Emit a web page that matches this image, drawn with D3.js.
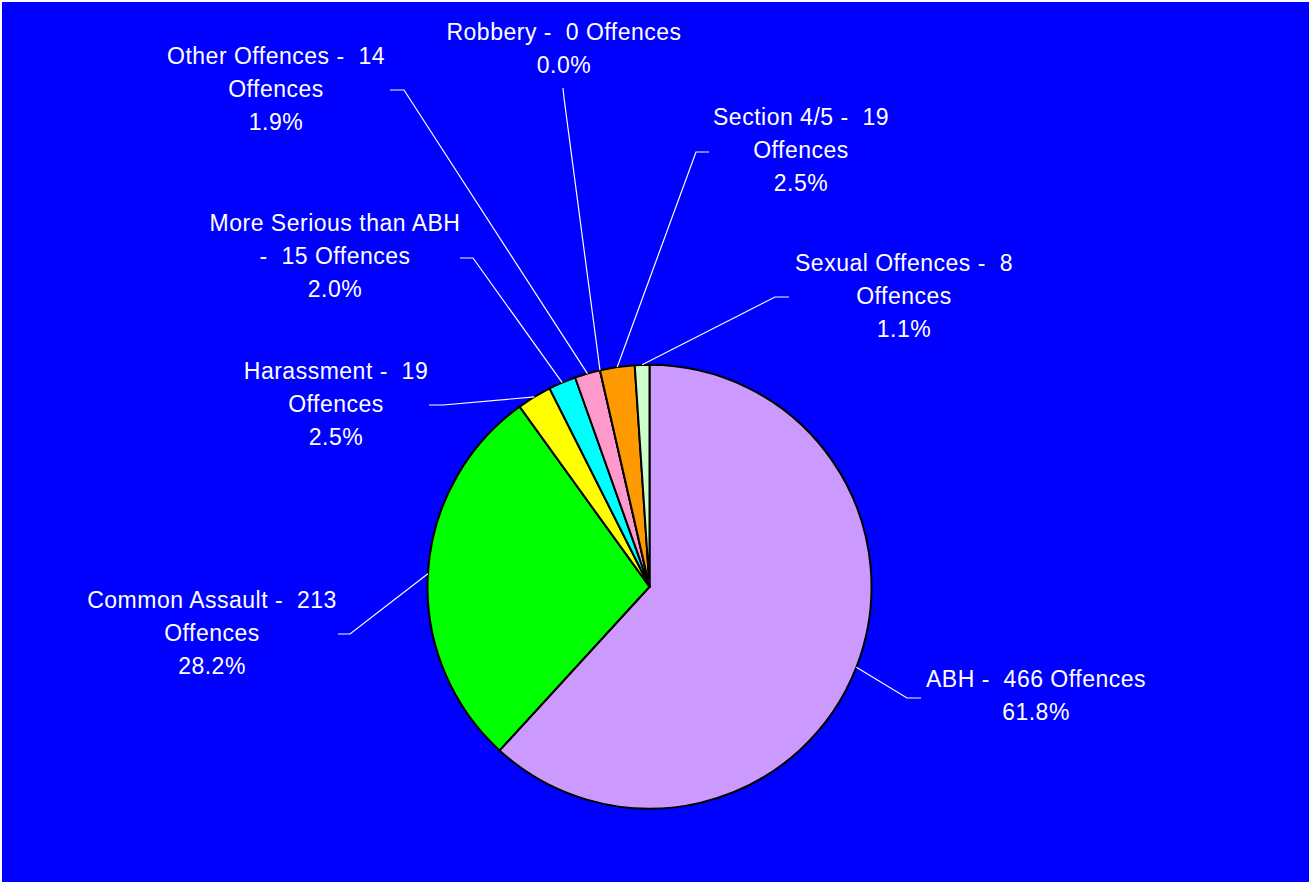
<!DOCTYPE html>
<html>
<head>
<meta charset="utf-8">
<script src="https://cdn.jsdelivr.net/npm/d3@7"></script>
<style>
  html, body { margin: 0; padding: 0; background: #ffffff; }
  svg { display: block; }
  .lbl { font-family: "Liberation Sans", Arial, sans-serif; font-size: 23px; letter-spacing: 0.5px; fill: #ffffff; white-space: pre; }
</style>
</head>
<body>
<svg id="chart" width="1309" height="882"></svg>
<script>
// Offence categories, in slice order clockwise from 12 o'clock
const categories = ["ABH", "Common Assault", "Harassment", "More Serious than ABH",
  "Other Offences", "Robbery", "Section 4/5", "Sexual Offences"];
const offences = [466, 213, 19, 15, 14, 0, 19, 8];
const sliceColors = ["#CC99FF", "#00FF00", "#FFFF00", "#00FFFF",
  "#FF99CC", "#993366", "#FF9900", "#CCFFCC"];

// Label placement: text centre, first baseline, where the line wraps,
// and the leader line's outer end and elbow
const labelLayout = [
  { x: 1036, y: 687, wrap: "none", end: [921, 698], elbow: [907, 698] },
  { x: 212,  y: 608, wrap: "last", end: [338, 634], elbow: [350, 634] },
  { x: 336,  y: 379, wrap: "last", end: [429, 405], elbow: [443, 405] },
  { x: 335,  y: 231, wrap: "name", end: [460, 258], elbow: [473, 258] },
  { x: 276,  y: 64,  wrap: "last", end: [390, 90],  elbow: [404, 90] },
  { x: 564,  y: 40,  wrap: "none", end: [563, 88],  elbow: [564, 98] },
  { x: 801,  y: 125, wrap: "last", end: [709, 152], elbow: [696, 152] },
  { x: 904,  y: 271, wrap: "last", end: [789, 297], elbow: [775, 297] }
];

const W = 1309, H = 882;
const cx = 649.5, cy = 586.7, R = 222;
const lineStep = 33;

const svg = d3.select("#chart");

// white top/left rule then the blue chart area
svg.append("rect").attr("x", 0).attr("y", 0).attr("width", W).attr("height", H).attr("fill", "#ffffff");
svg.append("rect").attr("x", 2).attr("y", 2).attr("width", W - 2).attr("height", H - 2).attr("fill", "#0000FF");

const data = categories.map((c, i) => ({ name: c, value: offences[i], color: sliceColors[i], layout: labelLayout[i] }));
const total = d3.sum(offences);
const pct = d3.format(".1%");

const pie = d3.pie().sort(null).value(d => d.value).startAngle(0).endAngle(2 * Math.PI);
const arcs = pie(data);
const arc = d3.arc().innerRadius(0).outerRadius(R);

const g = svg.append("g").attr("transform", `translate(${cx},${cy})`);

g.selectAll("path.slice")
  .data(arcs)
  .join("path")
  .attr("class", "slice")
  .attr("d", arc)
  .attr("fill", d => d.data.color)
  .attr("stroke", "#000000")
  .attr("stroke-width", 2)
  .attr("stroke-linejoin", "round");

// leader lines from the middle of each slice's rim to its label
const rimPoint = d => {
  const a = (d.startAngle + d.endAngle) / 2;
  return [cx + R * Math.sin(a), cy - R * Math.cos(a)];
};
const line = d3.line();
svg.selectAll("path.leader")
  .data(arcs)
  .join("path")
  .attr("class", "leader")
  .attr("d", d => line([d.data.layout.end, d.data.layout.elbow, rimPoint(d)]))
  .attr("fill", "none")
  .attr("stroke", "#ffffff")
  .attr("stroke-width", 1.2);

// label text lines
function labelLines(d) {
  const lines = [];
  const head = `${d.data.name} -  ${d.data.value} Offences`;
  if (d.data.layout.wrap === "none") {
    lines.push(head);
  } else if (d.data.layout.wrap === "last") {
    lines.push(`${d.data.name} -  ${d.data.value}`, "Offences");
  } else {
    lines.push(d.data.name, `-  ${d.data.value} Offences`);
  }
  lines.push(pct(d.data.value / total));
  return lines;
}

const labels = svg.selectAll("text.lbl")
  .data(arcs)
  .join("text")
  .attr("class", "lbl")
  .attr("text-anchor", "middle");

labels.each(function (d) {
  const t = d3.select(this);
  labelLines(d).forEach((s, i) => {
    t.append("tspan")
      .attr("x", d.data.layout.x)
      .attr("y", d.data.layout.y + i * lineStep)
      .text(s);
  });
});
</script>
</body>
</html>
